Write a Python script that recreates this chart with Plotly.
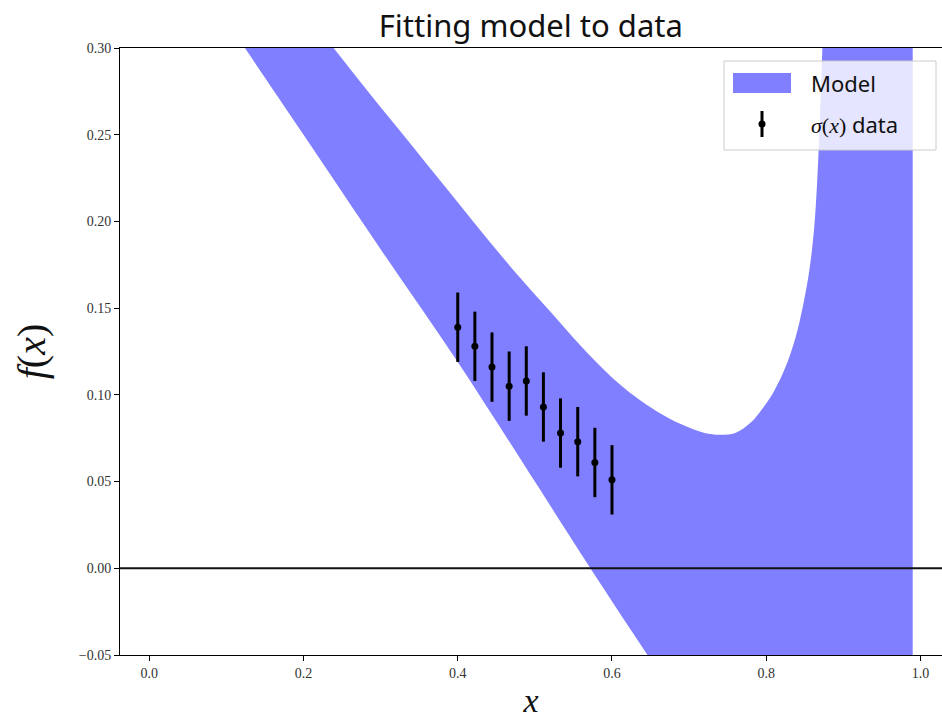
import plotly.graph_objects as go

# Edges of the model band (upper and lower envelope)
band_x_upper = [0.01, 0.10, 0.18, 0.239, 0.28, 0.32, 0.36, 0.40, 0.44, 0.48, 0.52,
                0.56, 0.60, 0.63, 0.66, 0.69, 0.72, 0.74, 0.76, 0.78, 0.795,
                0.81, 0.825, 0.838, 0.848, 0.856, 0.862, 0.866, 0.869, 0.8715,
                0.874, 0.878, 0.89, 0.93, 0.99]
band_y_upper = [0.428, 0.378, 0.333, 0.300, 0.277, 0.255, 0.233, 0.211, 0.189, 0.168, 0.148,
                0.128, 0.110, 0.099, 0.090, 0.083, 0.078, 0.077, 0.078, 0.084, 0.092,
                0.102, 0.116, 0.133, 0.152, 0.172, 0.195, 0.222, 0.252, 0.282,
                0.315, 0.36, 0.50, 0.80, 1.20]

band_x_lower = [0.01, 0.124, 0.20, 0.30, 0.40, 0.50, 0.572, 0.649, 0.75, 0.85, 0.99]
band_y_lower = [0.375, 0.300, 0.250, 0.184, 0.119, 0.050, 0.000, -0.052, -0.12, -0.19, -0.29]

# Measured sigma(x) points with their uncertainties
data_x = [0.4, 0.4222, 0.4444, 0.4667, 0.4889, 0.5111, 0.5333, 0.5556, 0.5778, 0.6]
data_y = [0.139, 0.128, 0.116, 0.105, 0.108, 0.093, 0.078, 0.073, 0.061, 0.051]
data_err = [0.02, 0.02, 0.02, 0.02, 0.02, 0.02, 0.02, 0.02, 0.02, 0.02]

x_ticks = [0.0, 0.2, 0.4, 0.6, 0.8, 1.0]
y_ticks = [-0.05, 0.00, 0.05, 0.10, 0.15, 0.20, 0.25, 0.30]

BLUE_FILL = "rgba(0,0,255,0.5)"
SERIF = "Liberation Serif"
SANS = "Noto Sans"

fig = go.Figure()

# lower envelope, then upper envelope filled down to it
fig.add_trace(go.Scatter(
    x=band_x_lower, y=band_y_lower, mode="lines",
    line=dict(width=0, color=BLUE_FILL, shape="spline", smoothing=1.0),
    showlegend=False, hoverinfo="skip",
))
fig.add_trace(go.Scatter(
    x=band_x_upper, y=band_y_upper, mode="lines", name="Model",
    line=dict(width=0, color=BLUE_FILL, shape="spline", smoothing=1.0),
    fill="tonexty", fillcolor=BLUE_FILL, showlegend=False,
))

fig.add_trace(go.Scatter(
    x=data_x, y=data_y, mode="markers", name="sigma(x) data",
    marker=dict(color="black", size=7),
    error_y=dict(type="data", array=data_err, visible=True,
                 color="black", thickness=3, width=0),
    showlegend=False,
))

# horizontal reference line at zero
fig.add_shape(type="line", xref="paper", x0=0, x1=1, yref="y", y0=0, y1=0,
              line=dict(color="#111111", width=2), layer="above")

# ---- legend box (upper right), laid out in paper coordinates ----
PLOT_L, PLOT_R, PLOT_T, PLOT_B = 120, 942, 48, 655


def px_x(p):
    return (p - PLOT_L) / (PLOT_R - PLOT_L)


def px_y(p):
    return (PLOT_B - p) / (PLOT_B - PLOT_T)


fig.add_shape(type="rect", xref="paper", yref="paper",
              x0=px_x(724), x1=px_x(936), y0=px_y(150), y1=px_y(61),
              fillcolor="rgba(255,255,255,0.8)", line=dict(color="#cccccc", width=1),
              layer="above")
fig.add_shape(type="rect", xref="paper", yref="paper",
              x0=px_x(733), x1=px_x(791), y0=px_y(93), y1=px_y(73),
              fillcolor=BLUE_FILL, line=dict(width=0), layer="above")
fig.add_shape(type="line", xref="paper", yref="paper",
              x0=px_x(762), x1=px_x(762), y0=px_y(137), y1=px_y(111),
              line=dict(color="black", width=3), layer="above")
fig.add_shape(type="circle", xref="paper", yref="paper",
              x0=px_x(758.5), x1=px_x(765.5), y0=px_y(127.5), y1=px_y(120.5),
              fillcolor="black", line=dict(width=0), layer="above")
fig.add_annotation(xref="paper", yref="paper", x=px_x(809), y=px_y(83),
                   xanchor="left", yanchor="middle", showarrow=False,
                   text="Model", font=dict(family=SANS, size=22, color="#111111"))
fig.add_annotation(xref="paper", yref="paper", x=px_x(809), y=px_y(124),
                   xanchor="left", yanchor="middle", showarrow=False,
                   text=f'<span style="font-family:{SERIF}"><i>σ</i>(<i>x</i>)</span> data',
                   font=dict(family=SANS, size=22, color="#111111"))

fig.update_layout(
    width=942, height=719,
    margin=dict(l=PLOT_L, r=942 - PLOT_R, t=PLOT_T, b=719 - PLOT_B),
    paper_bgcolor="white", plot_bgcolor="white",
    title=dict(text="Fitting model to data", x=0.5635, xanchor="center",
               y=0.964, yanchor="middle", yref="container",
               font=dict(family=SANS, size=31, color="#111111")),
    showlegend=False,
)

fig.update_xaxes(
    range=[-0.038, 1.028], tickvals=x_ticks, tickformat=".1f",
    showgrid=False, zeroline=False,
    showline=True, linecolor="black", linewidth=1, mirror=True,
    ticks="outside", ticklen=5, tickcolor="black",
    tickfont=dict(family=SERIF, size=14, color="#333333"),
    title=dict(text="<i>x</i>", font=dict(family=SERIF, size=34, color="#111111"), standoff=10),
)
fig.update_yaxes(
    range=[-0.05, 0.30], tickvals=y_ticks, tickformat=".2f",
    showgrid=False, zeroline=False,
    showline=True, linecolor="black", linewidth=1, mirror=True,
    ticks="outside", ticklen=5, tickcolor="black",
    tickfont=dict(family=SERIF, size=14, color="#333333"),
    title=dict(text="<i>f</i>(<i>x</i>)", font=dict(family=SERIF, size=40, color="#111111"), standoff=20),
)

fig.write_html("out.html")
